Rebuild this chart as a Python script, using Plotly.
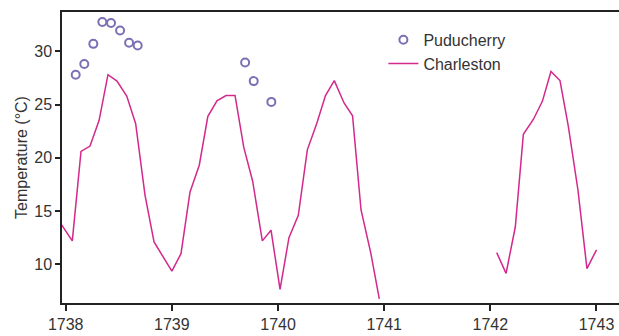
import plotly.graph_objects as go

# Charleston monthly temperatures, first segment (decimal years)
charleston_x1 = [1737.962, 1738.062, 1738.144, 1738.229, 1738.314, 1738.398, 1738.483,
                 1738.575, 1738.659, 1738.747, 1738.832, 1739.0, 1739.086, 1739.171,
                 1739.258, 1739.339, 1739.425, 1739.51, 1739.595, 1739.677, 1739.761,
                 1739.852, 1739.934, 1740.019, 1740.103, 1740.191, 1740.276, 1740.364,
                 1740.447, 1740.53, 1740.622, 1740.702, 1740.782, 1740.873, 1740.954]
charleston_y1 = [13.7, 12.2, 20.6, 21.1, 23.5, 27.8, 27.2,
                 25.8, 23.2, 16.5, 12.1, 9.35, 11.0, 16.8,
                 19.3, 23.9, 25.35, 25.85, 25.85, 21.0, 17.8,
                 12.2, 13.2, 7.65, 12.5, 14.6, 20.75, 23.2,
                 25.85, 27.25, 25.15, 23.95, 15.1, 11.1, 6.75]

# Charleston second segment
charleston_x2 = [1742.06, 1742.148, 1742.235, 1742.311, 1742.405, 1742.49,
                 1742.571, 1742.656, 1742.734, 1742.825, 1742.91, 1743.0]
charleston_y2 = [11.1, 9.15, 13.5, 22.2, 23.6, 25.3,
                 28.1, 27.25, 23.0, 17.0, 9.6, 11.35]

# Puducherry observations
puducherry_x = [1738.094, 1738.175, 1738.26, 1738.345, 1738.427, 1738.512, 1738.597,
                1738.678, 1739.69, 1739.771, 1739.937]
puducherry_y = [27.8, 28.8, 30.7, 32.75, 32.65, 31.95, 30.8,
                30.55, 28.95, 27.2, 25.25]

x_ticks = [1738, 1739, 1740, 1741, 1742, 1743]
y_ticks = [10, 15, 20, 25, 30]

LINE_COLOR = "#d3288c"
MARKER_COLOR = "#7c70b4"
TEXT_COLOR = "#333333"
FONT = "Liberation Sans, Arial, sans-serif"

fig = go.Figure()
fig.add_trace(go.Scatter(
    x=puducherry_x, y=puducherry_y, mode="markers", name="Puducherry",
    marker=dict(symbol="circle-open", size=8, color=MARKER_COLOR,
                line=dict(width=2, color=MARKER_COLOR)),
))
fig.add_trace(go.Scatter(
    x=charleston_x1, y=charleston_y1, mode="lines", name="Charleston",
    line=dict(color=LINE_COLOR, width=1.5),
))
fig.add_trace(go.Scatter(
    x=charleston_x2, y=charleston_y2, mode="lines", name="Charleston",
    line=dict(color=LINE_COLOR, width=1.5), showlegend=False,
))

fig.update_layout(
    width=619, height=336,
    margin=dict(l=62, r=0, t=12, b=33),
    plot_bgcolor="white", paper_bgcolor="white",
    font=dict(family=FONT, size=16, color=TEXT_COLOR),
    showlegend=True,
    legend=dict(x=0.577, y=0.963, xanchor="left", yanchor="top",
                bgcolor="rgba(0,0,0,0)", font=dict(size=16, color=TEXT_COLOR)),
    xaxis=dict(range=[1737.965, 1743.212], tickvals=x_ticks,
               ticktext=[str(t) for t in x_ticks],
               showgrid=False, zeroline=False, showline=True, linecolor="#222222",
               linewidth=1.5, mirror=True, ticks="outside", ticklen=6,
               tickcolor="#222222", tickwidth=1.5,
               tickfont=dict(size=16, color=TEXT_COLOR)),
    yaxis=dict(range=[6.366, 33.69], tickvals=y_ticks,
               showgrid=False, zeroline=False, showline=True, linecolor="#222222",
               linewidth=1.5, ticks="outside", ticklen=5, tickcolor="#222222",
               tickwidth=1.5,
               title=dict(text="Temperature (°C)", standoff=3,
                          font=dict(size=16, color=TEXT_COLOR)),
               tickfont=dict(size=16, color=TEXT_COLOR)),
)

fig.write_html("out.html",
               config={"displayModeBar": False},
               post_script="document.body.style.margin='0';document.body.style.overflow='hidden';")
